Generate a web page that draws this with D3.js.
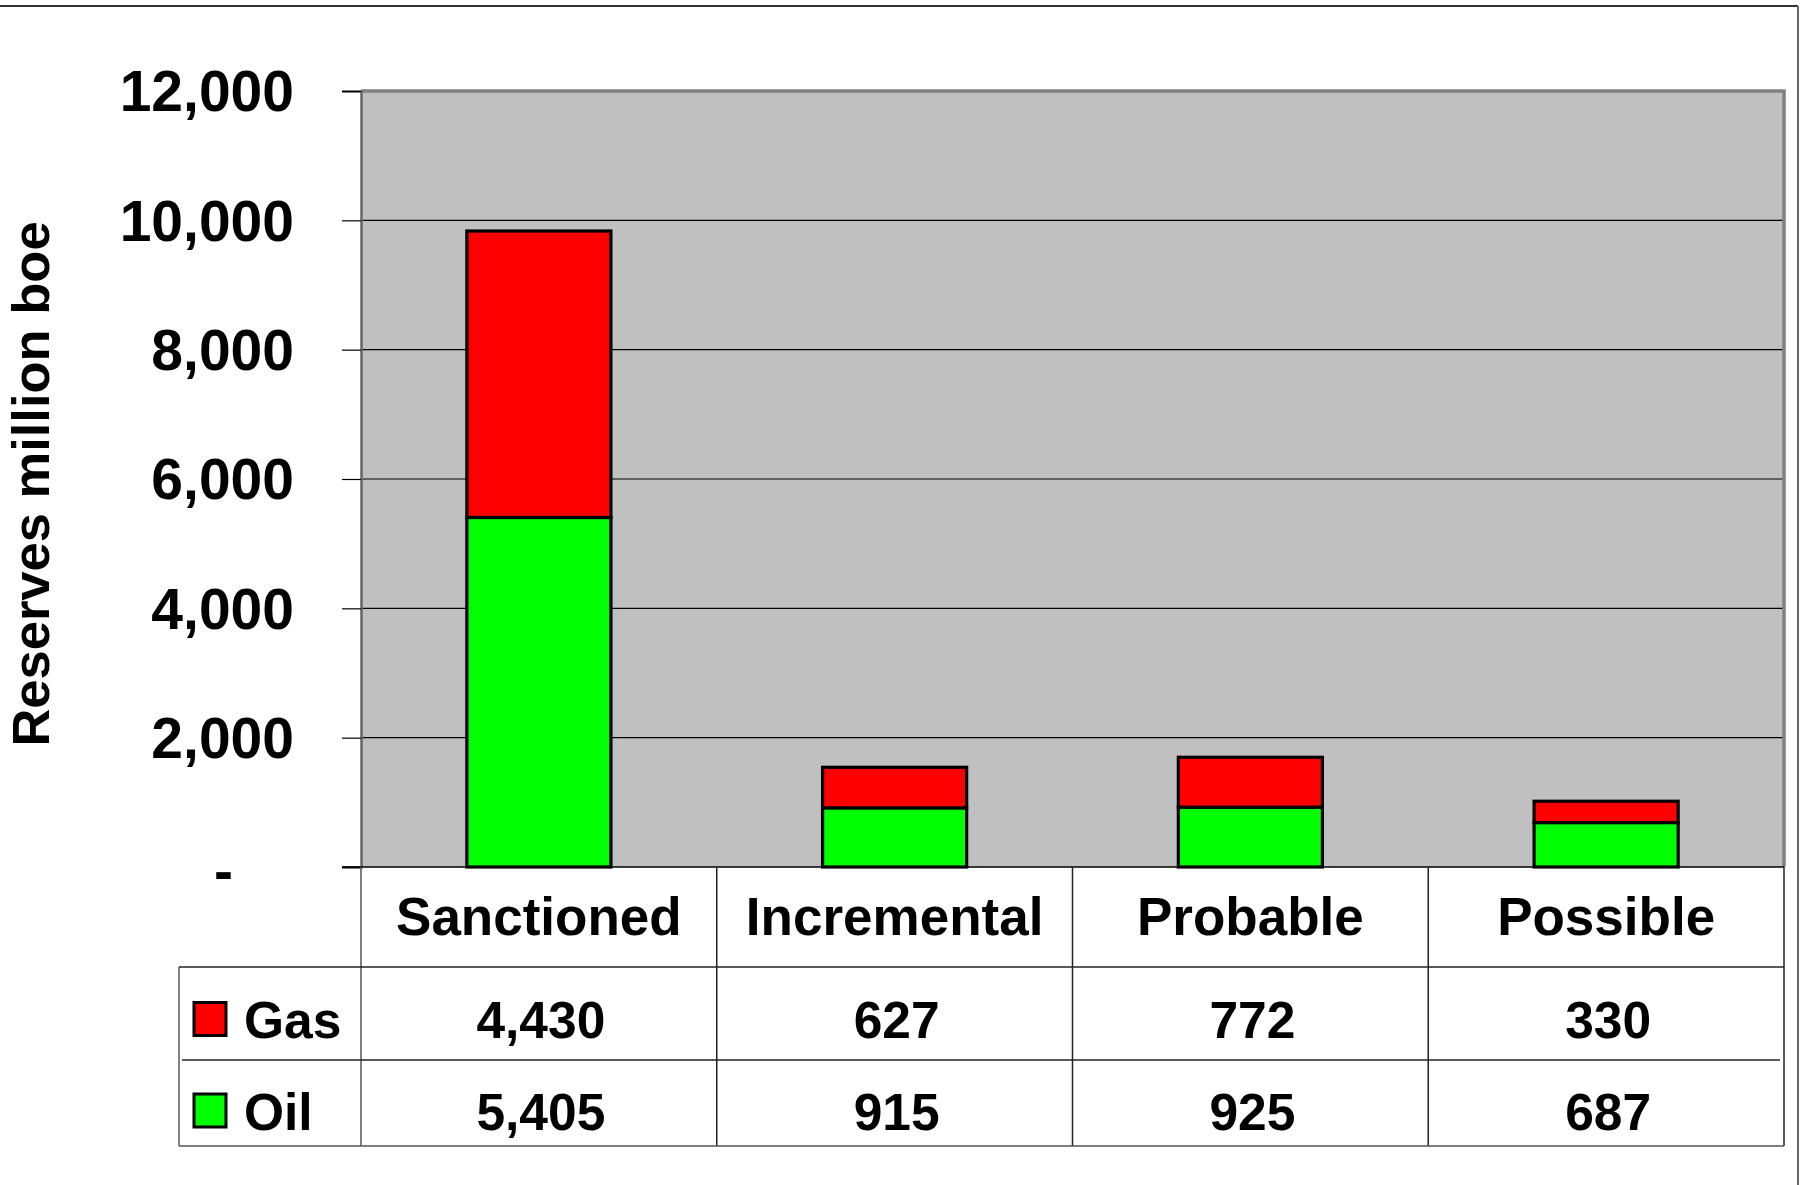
<!DOCTYPE html>
<html>
<head>
<meta charset="utf-8">
<script src="https://cdn.jsdelivr.net/npm/d3@7"></script>
<style>
  html, body { margin: 0; padding: 0; background: #fff; }
  svg { display: block; }
  text { font-family: "Liberation Sans", Arial, sans-serif; font-weight: bold; fill: #000; }
</style>
</head>
<body>
<script>
const categories = ["Sanctioned", "Incremental", "Probable", "Possible"];
const gasValues = [4430, 627, 772, 330];
const oilValues = [5405, 915, 925, 687];
const seriesNames = ["Gas", "Oil"];
const seriesColors = ["#ff0000", "#00ff00"];
const yTicks = [0, 2000, 4000, 6000, 8000, 10000, 12000];
const yTitle = "Reserves million boe";

const W = 1801, H = 1185;
const plot = { left: 361, right: 1784, top: 91, bottom: 867 };
const tableRows = { header: 967, gas: 1060, oil: 1146 };
const tableLeft = 179;

const svg = d3.select("body").append("svg").attr("width", W).attr("height", H);

// outer frame (top and right)
svg.append("line").attr("x1", 0).attr("x2", 1798).attr("y1", 6).attr("y2", 6)
  .attr("stroke", "#333").attr("stroke-width", 2);
svg.append("line").attr("x1", 1798).attr("x2", 1798).attr("y1", 6).attr("y2", H)
  .attr("stroke", "#666").attr("stroke-width", 2);

const x = d3.scaleBand().domain(categories).range([plot.left, plot.right]).paddingInner(0).paddingOuter(0);
const y = d3.scaleLinear().domain([0, 12000]).range([plot.bottom, plot.top]);

// plot background
svg.append("rect").attr("x", plot.left).attr("y", plot.top)
  .attr("width", plot.right - plot.left).attr("height", plot.bottom - plot.top)
  .attr("fill", "#c0c0c0");

// gridlines
svg.append("g").selectAll("line").data(yTicks.filter(d => d > 0 && d < 12000)).join("line")
  .attr("x1", plot.left).attr("x2", plot.right)
  .attr("y1", d => y(d)).attr("y2", d => y(d))
  .attr("stroke", "#000").attr("stroke-width", 1.2);

// plot border top / right
svg.append("path")
  .attr("d", `M${plot.left},${plot.top}H${plot.right}V${plot.bottom}`)
  .attr("fill", "none").attr("stroke", "#808080").attr("stroke-width", 3.5);

// bars
const stackData = categories.map((c, i) => ({ cat: c, Oil: oilValues[i], Gas: gasValues[i] }));
const stack = d3.stack().keys(["Oil", "Gas"])(stackData);
const colorOf = { Gas: seriesColors[0], Oil: seriesColors[1] };
const barW = x.bandwidth() * 0.405;
svg.append("g").selectAll("g").data(stack).join("g")
  .attr("fill", d => colorOf[d.key])
  .selectAll("rect").data(d => d).join("rect")
  .attr("x", d => x(d.data.cat) + (x.bandwidth() - barW) / 2)
  .attr("width", barW)
  .attr("y", d => y(d[1]))
  .attr("height", d => y(d[0]) - y(d[1]))
  .attr("stroke", "#000").attr("stroke-width", 3.2);

// y axis
const yAxis = d3.axisLeft(y).tickValues(yTicks).tickSize(19).tickPadding(48)
  .tickFormat(d => d === 0 ? "-" : d3.format(",")(d));
const gy = svg.append("g").attr("transform", `translate(${plot.left},0)`).call(yAxis);
gy.select(".domain").attr("stroke", "#666").attr("stroke-width", 2.5);
gy.selectAll(".tick line").attr("stroke", "#000").attr("stroke-width", 1.2);
gy.selectAll(".tick text")
  .style("font-size", "57px").style("font-family", "'Liberation Sans', Arial, sans-serif")
  .style("font-weight", "bold").attr("fill", "#000")
  .attr("dy", "0.35em");
gy.selectAll(".tick text").filter(d => d === 0).attr("x", -128).attr("dy", "0.42em");

// zero line
svg.append("line").attr("x1", plot.left - 19).attr("x2", plot.right)
  .attr("y1", y(0)).attr("y2", y(0)).attr("stroke", "#000").attr("stroke-width", 1.5);

// y title
svg.append("text")
  .attr("transform", `translate(49,${(224 + 744) / 2}) rotate(-90)`)
  .attr("text-anchor", "middle")
  .style("font-size", "52.5px")
  .text(yTitle);

// data table
const tg = svg.append("g");
const lineColor = "#222";
const vx = categories.map(c => x(c)).concat([plot.right]);
vx.forEach((vxi, i) => {
  tg.append("line").attr("x1", vxi).attr("x2", vxi)
    .attr("y1", plot.bottom).attr("y2", tableRows.oil)
    .attr("stroke", i === 0 ? "#555" : lineColor).attr("stroke-width", 1.5);
});
tg.append("line").attr("x1", tableLeft).attr("x2", tableLeft)
  .attr("y1", tableRows.header).attr("y2", tableRows.oil).attr("stroke", "#555").attr("stroke-width", 1.5);
[tableRows.header, tableRows.gas, tableRows.oil].forEach((ry, i) => {
  tg.append("line").attr("x1", i === 1 ? tableLeft + 3 : tableLeft).attr("x2", i === 1 ? plot.right - 4 : plot.right)
    .attr("y1", ry).attr("y2", ry).attr("stroke", i === 2 ? "#555" : lineColor).attr("stroke-width", 1.5);
});

// header labels
tg.selectAll("text.cat").data(categories).join("text").attr("class", "cat")
  .attr("x", d => x(d) + x.bandwidth() / 2)
  .attr("y", 935)
  .attr("text-anchor", "middle")
  .style("font-size", "53px")
  .text(d => d);

// rows
const rows = [
  { name: seriesNames[0], color: seriesColors[0], values: gasValues, cy: (tableRows.header + tableRows.gas) / 2 + 6 },
  { name: seriesNames[1], color: seriesColors[1], values: oilValues, cy: (tableRows.gas + tableRows.oil) / 2 + 8 }
];
rows.forEach(r => {
  tg.append("rect").attr("x", 194).attr("y", r.cy - 17).attr("width", 32).attr("height", 33)
    .attr("fill", r.color).attr("stroke", "#000").attr("stroke-width", 3);
  tg.append("text").attr("x", 244).attr("y", r.cy).attr("dy", "0.36em")
    .style("font-size", "51.5px").text(r.name);
  tg.selectAll(null).data(r.values).join("text")
    .attr("x", (d, i) => x(categories[i]) + x.bandwidth() / 2 + 2)
    .attr("y", r.cy).attr("dy", "0.36em")
    .attr("text-anchor", "middle")
    .style("font-size", "51.5px")
    .text(d => d3.format(",")(d));
});
</script>
</body>
</html>
